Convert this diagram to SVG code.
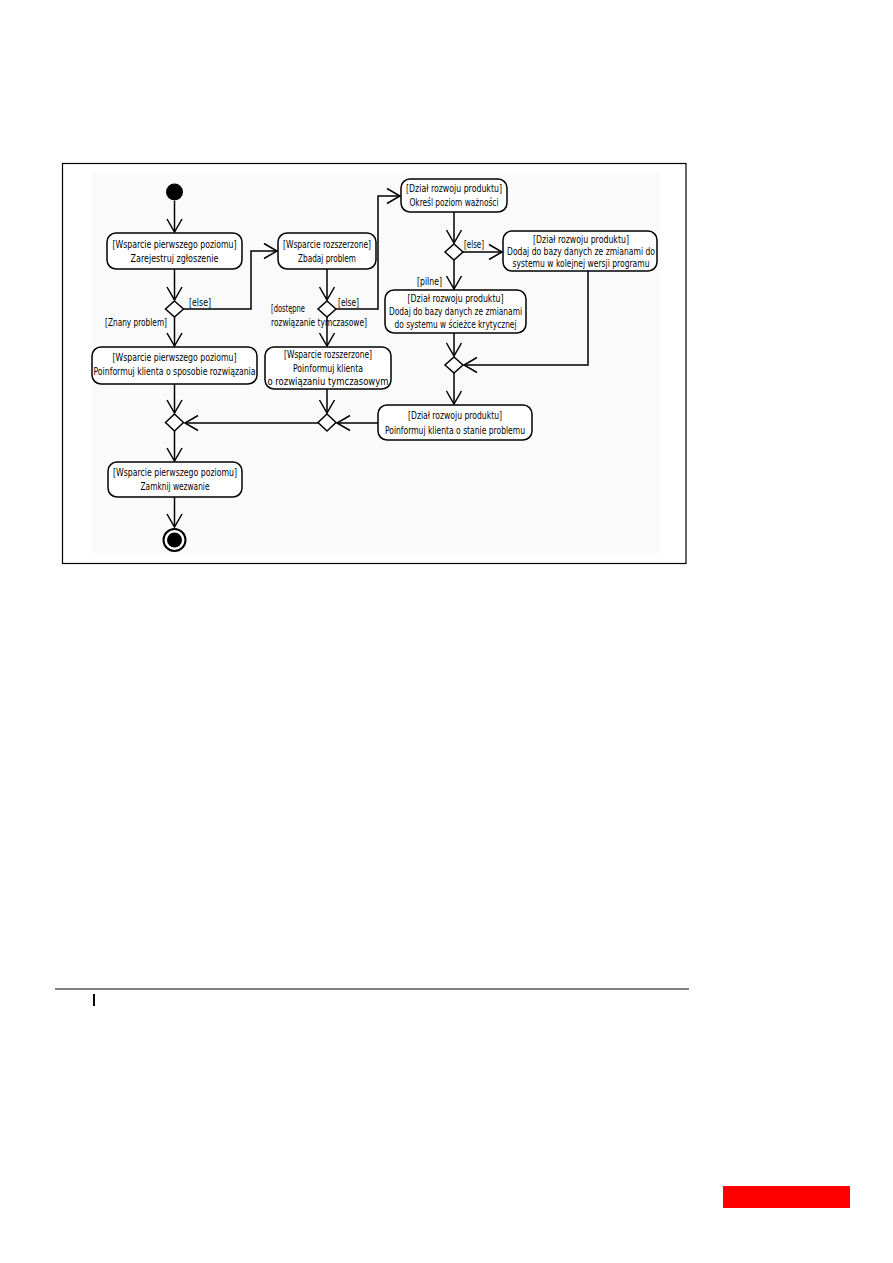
<svg xmlns="http://www.w3.org/2000/svg" width="893" height="1263" viewBox="0 0 893 1263">
<style>
.box{fill:#fff;stroke:#000;stroke-width:1.5}
.dec{fill:#fff;stroke:#000;stroke-width:1.5}
.ln{fill:none;stroke:#000;stroke-width:1.5}
text{font-family:"Liberation Sans Narrow","DejaVu Sans Condensed","Liberation Sans",sans-serif;font-size:11px;fill:#000;text-anchor:middle}
.lbl{text-anchor:start}
</style>
<defs>
<marker id="arr" markerUnits="userSpaceOnUse" markerWidth="16" markerHeight="20" viewBox="-14 -10 16 20" refX="0" refY="0" orient="auto">
<path d="M-13,-7.5 L0,0 L-13,7.5" fill="none" stroke="#000" stroke-width="1.5"/>
</marker>
</defs>
<rect x="0" y="0" width="893" height="1263" fill="#fff"/>
<rect x="62.5" y="163.5" width="623.5" height="400" fill="#fff" stroke="#000" stroke-width="1.2"/>
<rect x="92" y="173" width="568" height="380" fill="#fafafa"/>

<g id="connectors">
<path class="ln" d="M174.5,201 V232" marker-end="url(#arr)"/>
<path class="ln" d="M174.5,269 V300" marker-end="url(#arr)"/>
<path class="ln" d="M184,309 H251 V251 H277" marker-end="url(#arr)"/>
<path class="ln" d="M174.5,317 V346" marker-end="url(#arr)"/>
<path class="ln" d="M327,269 V300" marker-end="url(#arr)"/>
<path class="ln" d="M336,309 H378 V196 H400" marker-end="url(#arr)"/>
<path class="ln" d="M327,317 V346" marker-end="url(#arr)"/>
<path class="ln" d="M454,212 V243" marker-end="url(#arr)"/>
<path class="ln" d="M463,252 H502" marker-end="url(#arr)"/>
<path class="ln" d="M454,260 V289" marker-end="url(#arr)"/>
<path class="ln" d="M588,271 V365 H464" marker-end="url(#arr)"/>
<path class="ln" d="M454,333 V356" marker-end="url(#arr)"/>
<path class="ln" d="M454,373 V404" marker-end="url(#arr)"/>
<path class="ln" d="M378,423 H337" marker-end="url(#arr)"/>
<path class="ln" d="M327,389 V413" marker-end="url(#arr)"/>
<path class="ln" d="M318,423 H185" marker-end="url(#arr)"/>
<path class="ln" d="M174.5,384 V413" marker-end="url(#arr)"/>
<path class="ln" d="M174.5,431 V461" marker-end="url(#arr)"/>
<path class="ln" d="M174.5,497 V527" marker-end="url(#arr)"/>
</g>

<g id="start"><circle cx="174.5" cy="192" r="8.5" fill="#000"/></g>

<g id="n1">
<rect class="box" x="107" y="233" width="135" height="36" rx="9"/>
<text x="174.5" y="248" textLength="124" lengthAdjust="spacingAndGlyphs">[Wsparcie pierwszego poziomu]</text>
<text x="174.5" y="262" textLength="88" lengthAdjust="spacingAndGlyphs">Zarejestruj zgłoszenie</text>
</g>
<g id="n2">
<rect class="box" x="278" y="233" width="98" height="36" rx="9"/>
<text x="327" y="248" textLength="88" lengthAdjust="spacingAndGlyphs">[Wsparcie rozszerzone]</text>
<text x="327" y="262" textLength="58" lengthAdjust="spacingAndGlyphs">Zbadaj problem</text>
</g>
<g id="n3">
<rect class="box" x="92" y="347" width="165" height="37" rx="9"/>
<text x="174.5" y="361" textLength="124" lengthAdjust="spacingAndGlyphs">[Wsparcie pierwszego poziomu]</text>
<text x="174.5" y="375" textLength="162" lengthAdjust="spacingAndGlyphs">Poinformuj klienta o sposobie rozwiązania</text>
</g>
<g id="n4">
<rect class="box" x="265" y="347" width="126" height="42" rx="9"/>
<text x="328" y="358" textLength="88" lengthAdjust="spacingAndGlyphs">[Wsparcie rozszerzone]</text>
<text x="328" y="371.5" textLength="70" lengthAdjust="spacingAndGlyphs">Poinformuj klienta</text>
<text x="328" y="385" textLength="121" lengthAdjust="spacingAndGlyphs">o rozwiązaniu tymczasowym</text>
</g>
<g id="n5">
<rect class="box" x="401" y="179" width="106" height="33" rx="9"/>
<text x="454" y="192" textLength="96" lengthAdjust="spacingAndGlyphs">[Dział rozwoju produktu]</text>
<text x="454" y="206" textLength="89" lengthAdjust="spacingAndGlyphs">Określ poziom ważności</text>
</g>
<g id="n6">
<rect class="box" x="503" y="231" width="154" height="40" rx="9"/>
<text x="581" y="243" textLength="96" lengthAdjust="spacingAndGlyphs">[Dział rozwoju produktu]</text>
<text x="581" y="255" textLength="148" lengthAdjust="spacingAndGlyphs">Dodaj do bazy danych ze zmianami do</text>
<text x="581" y="267" textLength="137" lengthAdjust="spacingAndGlyphs">systemu w kolejnej wersji programu</text>
</g>
<g id="n7">
<rect class="box" x="385" y="290" width="141" height="43" rx="9"/>
<text x="455.5" y="302" textLength="96" lengthAdjust="spacingAndGlyphs">[Dział rozwoju produktu]</text>
<text x="455.5" y="315" textLength="133" lengthAdjust="spacingAndGlyphs">Dodaj do bazy danych ze zmianami</text>
<text x="455.5" y="328" textLength="122" lengthAdjust="spacingAndGlyphs">do systemu w ścieżce krytycznej</text>
</g>
<g id="n8">
<rect class="box" x="378" y="405" width="154" height="35" rx="9"/>
<text x="455" y="419" textLength="94" lengthAdjust="spacingAndGlyphs">[Dział rozwoju produktu]</text>
<text x="455" y="434" textLength="140" lengthAdjust="spacingAndGlyphs">Poinformuj klienta o stanie problemu</text>
</g>
<g id="n9">
<rect class="box" x="108" y="462" width="134" height="35" rx="9"/>
<text x="175" y="476" textLength="124" lengthAdjust="spacingAndGlyphs">[Wsparcie pierwszego poziomu]</text>
<text x="175" y="490" textLength="69" lengthAdjust="spacingAndGlyphs">Zamknij wezwanie</text>
</g>

<g id="d1"><path class="dec" d="M174.5,301 L183.5,309 L174.5,317 L165.5,309 Z"/></g>
<g id="d2"><path class="dec" d="M327,301 L336,309 L327,317 L318,309 Z"/></g>
<g id="d3"><path class="dec" d="M454,244 L463,252 L454,260 L445,252 Z"/></g>
<g id="d4"><path class="dec" d="M454,357 L463,365 L454,373 L445,365 Z"/></g>
<g id="d5"><path class="dec" d="M174.5,414 L183.5,422.5 L174.5,431 L165.5,422.5 Z"/></g>
<g id="d6"><path class="dec" d="M327,414 L336,422.5 L327,431 L318,422.5 Z"/></g>

<g id="end">
<circle cx="174.5" cy="540" r="11" fill="#fff" stroke="#000" stroke-width="2"/>
<circle cx="174.5" cy="540" r="7.5" fill="#000"/>
</g>

<g id="labels">
<text class="lbl" x="189" y="306" textLength="22" lengthAdjust="spacingAndGlyphs">[else]</text>
<text class="lbl" x="105" y="326" textLength="62" lengthAdjust="spacingAndGlyphs">[Znany problem]</text>
<text class="lbl" x="338" y="306" textLength="21" lengthAdjust="spacingAndGlyphs">[else]</text>
<text class="lbl" x="271" y="312" textLength="34" lengthAdjust="spacingAndGlyphs">[dostępne</text>
<text class="lbl" x="271" y="326" textLength="96" lengthAdjust="spacingAndGlyphs">rozwiązanie tymczasowe]</text>
<text class="lbl" x="464" y="248" textLength="20" lengthAdjust="spacingAndGlyphs">[else]</text>
<text class="lbl" x="417" y="285" textLength="25" lengthAdjust="spacingAndGlyphs">[pilne]</text>
</g>

<line x1="55" y1="989" x2="689" y2="989" stroke="#000" stroke-width="1"/>
<line x1="94" y1="994" x2="94" y2="1006" stroke="#000" stroke-width="2"/>
<rect x="723" y="1186" width="127" height="22" fill="#ff0000"/>
</svg>
